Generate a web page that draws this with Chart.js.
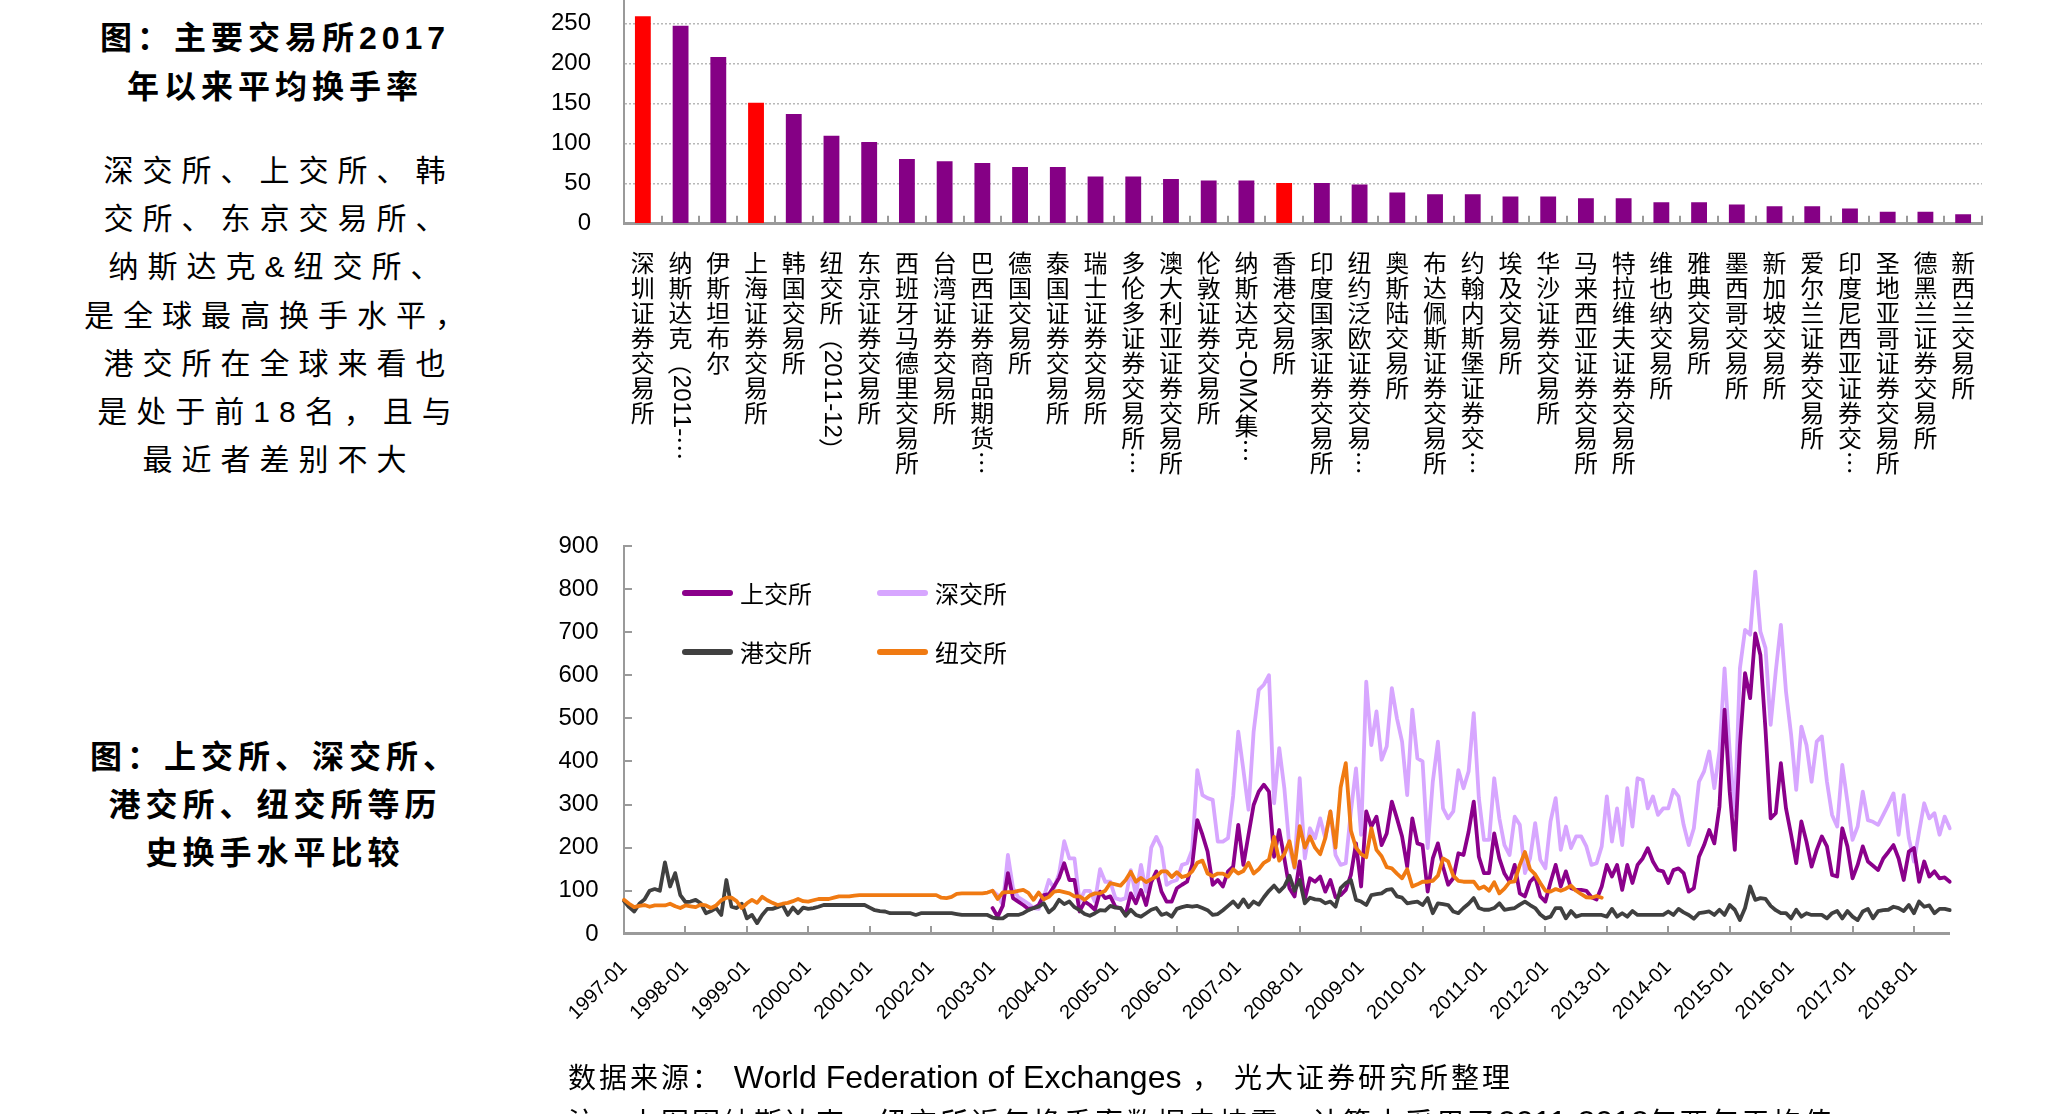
<!DOCTYPE html>
<html lang="zh-CN">
<head>
<meta charset="UTF-8">
<title>主要交易所换手率比较</title>
<script src="https://cdn.jsdelivr.net/npm/chart.js@4"></script>
<style>
  html, body { margin: 0; padding: 0; background: #fff; }
  body {
    width: 2048px; height: 1114px; position: relative; overflow: hidden;
    font-family: 'Liberation Sans', 'Noto Sans CJK SC', sans-serif; color: #000;
  }
  canvas { position: absolute; }
  #barChart { left: 540px; top: -40px; }
  #lineChart { left: 540px; top: 500px; }
  .side { position: absolute; left: 70px; width: 400px; text-align: center; white-space: nowrap; }
  .title { font-size: 32px; font-weight: bold; line-height: 49px; letter-spacing: 5px; padding-left: 5px; }
  .body-text { font-size: 30px; line-height: 48.2px; letter-spacing: 9px; padding-left: 9px; }
  #title1 { top: 14px; }
  #desc { top: 147px; }
  #title2 { top: 733px; line-height: 48px; }
  .note { position: absolute; left: 568px; white-space: nowrap; font-size: 28px; letter-spacing: 3px; }
  .note .en { font-size: 32px; letter-spacing: 0; }
  #source { top: 1055px; line-height: 44px; }
  #note2 { top: 1100px; line-height: 44px; }
  #legend {
    position: absolute; left: 682px; top: 563px;
    display: grid; grid-template-columns: 195px 195px; grid-auto-rows: 59px;
    font-family: 'Noto Sans CJK SC', sans-serif; font-size: 24px;
  }
  #legend .item { display: flex; align-items: center; }
  #legend .swatch { width: 51px; height: 6px; border-radius: 3px; margin-right: 7px; }
</style>
</head>
<body>
  <div class="side title" id="title1">图：主要交易所2017<br>年以来平均换手率</div>
  <div class="side body-text" id="desc">深交所、上交所、韩<br>交所、东京交易所、<br>纳斯达克&amp;纽交所、<br>是全球最高换手水平，<br>港交所在全球来看也<br>是处于前18名，且与<br>最近者差别不大</div>
  <div class="side title" id="title2">图：上交所、深交所、<br>港交所、纽交所等历<br>史换手水平比较</div>

  <canvas id="barChart" width="1460" height="600"></canvas>
  <canvas id="lineChart" width="1440" height="600"></canvas>
  <div id="legend"></div>

  <div class="note" id="source">数据来源： <span class="en">World Federation of Exchanges</span> ， 光大证券研究所整理</div>
  <div class="note" id="note2">注：上图因纳斯达克、纽交所近年换手率数据未披露，计算中采用了<span class="en">2011-2012</span>年两年平均值</div>

<script>
// ---- 图1：主要交易所2017年以来平均换手率 ----
const exchanges = [
  '深圳证券交易所', '纳斯达克（2011-…', '伊斯坦布尔', '上海证券交易所', '韩国交易所',
  '纽交所（2011-12）', '东京证券交易所', '西班牙马德里交易所', '台湾证券交易所', '巴西证券商品期货…',
  '德国交易所', '泰国证券交易所', '瑞士证券交易所', '多伦多证券交易所…', '澳大利亚证券交易所',
  '伦敦证券交易所', '纳斯达克-OMX集…', '香港交易所', '印度国家证券交易所', '纽约泛欧证券交易…',
  '奥斯陆交易所', '布达佩斯证券交易所', '约翰内斯堡证券交…', '埃及交易所', '华沙证券交易所',
  '马来西亚证券交易所', '特拉维夫证券交易所', '维也纳交易所', '雅典交易所', '墨西哥交易所',
  '新加坡交易所', '爱尔兰证券交易所', '印度尼西亚证券交…', '圣地亚哥证券交易所', '德黑兰证券交易所',
  '新西兰交易所'
];
const turnover = [
  259, 247, 208, 151, 137, 110, 102, 81, 78, 76,
  71, 71, 59, 59, 56, 54, 54, 51, 51, 49,
  39, 37, 37, 34, 34, 32, 32, 27, 27, 24,
  22, 22, 19, 15, 15, 12
];
const highlight = ['深圳证券交易所', '上海证券交易所', '香港交易所'];
const barTicks = [0, 50, 100, 150, 200, 250, 300];

// ---- 图2：历史换手水平（月度，1997-01 起）----
const startYear = 1997;
const hkex = [
  76, 62, 52, 70, 80, 100, 104, 100, 166, 110,
  141, 90, 74, 75, 79, 71, 48, 53, 60, 44,
  125, 63, 60, 70, 36, 44, 25, 44, 58, 58,
  62, 67, 44, 61, 48, 61, 58, 60, 63, 67,
  67, 67, 67, 67, 67, 67, 67, 67, 61, 55,
  53, 52, 48, 48, 48, 48, 48, 44, 48, 48,
  48, 48, 48, 48, 48, 46, 44, 44, 44, 44,
  44, 44, 38, 36, 36, 44, 44, 44, 48, 55,
  60, 63, 71, 50, 60, 79, 69, 75, 62, 55,
  46, 42, 48, 55, 54, 65, 61, 60, 42, 56,
  44, 40, 48, 56, 60, 44, 48, 40, 58, 62,
  65, 63, 65, 60, 55, 44, 46, 55, 65, 75,
  62, 80, 62, 75, 68, 85, 100, 112, 98, 110,
  135, 100, 125, 71, 84, 80, 79, 71, 75, 63,
  106, 118, 125, 79, 75, 67, 90, 92, 94, 102,
  104, 87, 84, 71, 73, 75, 67, 83, 48, 71,
  69, 67, 52, 48, 60, 70, 83, 60, 56, 56,
  60, 71, 56, 58, 60, 68, 75, 67, 60, 45,
  36, 40, 60, 60, 36, 53, 40, 44, 44, 44,
  44, 44, 40, 58, 40, 48, 40, 53, 44, 44,
  44, 44, 44, 44, 52, 44, 58, 50, 44, 35,
  48, 50, 52, 44, 56, 44, 67, 56, 32, 60,
  110, 79, 83, 81, 65, 55, 48, 48, 36, 56,
  40, 48, 44, 44, 44, 36, 48, 53, 36, 53,
  40, 32, 52, 58, 36, 53, 55, 56, 63, 60,
  53, 67, 48, 75, 63, 66, 48, 58, 58, 55
];
const nyse = [
  79, 70, 62, 65, 67, 63, 66, 66, 66, 70,
  64, 60, 66, 64, 62, 68, 66, 60, 66, 78,
  84, 84, 76, 60, 71, 79, 72, 86, 78, 72,
  67, 70, 72, 76, 81, 76, 75, 78, 81, 81,
  81, 84, 87, 87, 87, 89, 90, 90, 90, 90,
  90, 90, 90, 90, 90, 90, 90, 90, 90, 90,
  90, 90, 84, 83, 86, 93, 94, 94, 94, 94,
  94, 96, 100, 81, 96, 97, 97, 100, 102, 95,
  79, 96, 80, 86, 98, 100, 97, 94, 87, 87,
  79, 89, 94, 94, 100, 118, 115, 112, 125, 144,
  121, 130, 120, 127, 133, 145, 145, 132, 143, 132,
  135, 145, 165, 170, 140, 134, 140, 140, 133, 150,
  140, 146, 165, 140, 150, 165, 172, 225, 170, 185,
  215, 155, 250, 200, 226, 200, 185, 222, 284, 200,
  340, 396, 240, 200, 185, 178, 245, 195, 180, 155,
  152, 140, 129, 150, 110, 115, 121, 121, 123, 135,
  175, 168, 135, 123, 121, 121, 121, 105, 110, 100,
  120, 94, 105, 120, 122, 160, 190, 150, 138, 118,
  100, 98, 104, 100, 105, 112, 100, 92, 85, 84,
  88, 84,
  ...Array(68).fill(null)
];
const sse = [
  ...Array(72).fill(null),
  60, 40, 65, 141, 83, 75, 67, 58,
  60, 67, 90, 92, 110, 130, 164, 125, 125, 52,
  75, 67, 56, 98, 83, 87, 63, 60, 44, 94,
  71, 102, 67, 120, 145, 98, 75, 75, 106, 114,
  121, 160, 264, 230, 191, 114, 125, 110, 145, 156,
  253, 160, 230, 299, 330, 346, 330, 179, 241, 175,
  106, 87, 168, 80, 129, 121, 133, 98, 125, 85,
  90, 102, 137, 210, 110, 284, 249, 272, 206, 233,
  307, 268, 226, 156, 268, 210, 206, 98, 175, 210,
  156, 114, 129, 187, 183, 237, 307, 179, 141, 141,
  233, 175, 140, 121, 160, 94, 87, 121, 133, 87,
  75, 120, 160, 110, 145, 106, 102, 102, 100, 85,
  80, 110, 160, 133, 160, 102, 160, 118, 160, 175,
  199, 168, 148, 145, 118, 148, 152, 141, 98, 106,
  179, 206, 241, 210, 295, 520, 330, 195, 438, 605,
  547, 697, 647, 473, 268, 280, 396, 291, 230, 164,
  261, 214, 156, 195, 226, 203, 137, 133, 245, 203,
  129, 160, 203, 168, 158, 148, 175, 190, 206, 175,
  125, 191, 199, 121, 168, 133, 145, 129, 131, 121
];
const szse = [
  ...Array(72).fill(null),
  100, 90, 67, 183, 106, 85, 78, 70,
  60, 58, 85, 125, 106, 140, 215, 175, 175, 75,
  100, 100, 75, 150, 121, 121, 83, 79, 83, 148,
  90, 160, 98, 200, 225, 200, 114, 121, 125, 160,
  164, 195, 380, 322, 315, 311, 214, 214, 222, 320,
  469, 380, 288, 469, 566, 578, 600, 303, 431, 338,
  200, 152, 361, 175, 245, 222, 268, 222, 284, 183,
  160, 164, 284, 384, 230, 585, 438, 516, 404, 435,
  570, 500, 446, 322, 520, 407, 400, 199, 353, 446,
  291, 268, 284, 380, 338, 377, 512, 315, 218, 218,
  361, 268, 206, 183, 272, 253, 141, 175, 257, 172,
  152, 261, 315, 195, 249, 199, 226, 226, 203, 160,
  164, 203, 319, 214, 291, 206, 338, 249, 361, 357,
  291, 319, 276, 291, 291, 334, 319, 253, 206, 245,
  353, 377, 423, 338, 423, 616, 423, 276, 616, 705,
  694, 840, 701, 663, 485, 609, 717, 562, 462, 334,
  481, 438, 353, 446, 458, 353, 276, 249, 392, 307,
  218, 249, 330, 264, 260, 253, 276, 300, 326, 230,
  322, 222, 168, 237, 303, 268, 280, 230, 272, 245
];
const seriesNames = ['上交所', '深交所', '港交所', '纽交所'];

// month labels 1997-01 ... 2018-08
const months = [];
for (let i = 0; i < hkex.length; i++) {
  const yr = startYear + Math.floor(i / 12);
  const mo = String(i % 12 + 1).padStart(2, '0');
  months.push(yr + '-' + mo);
}

Chart.defaults.font.family = "'Liberation Sans', 'Noto Sans CJK SC', sans-serif";
Chart.defaults.color = '#000';

const AXIS = '#9a9a9a';

// where the plot areas sit on the page (y, px)
const BAR_AREA = { top: -16.8, bottom: 223.6 };
const LINE_AREA = { top: 546.3, bottom: 934.3 };

// vertical category labels (CJK upright, latin turned) + inside tick marks
const barLabels = {
  id: 'barLabels',
  afterDraw(chart) {
    const { ctx, chartArea, scales: { x } } = chart;
    ctx.save();
    ctx.fillStyle = '#000';
    exchanges.forEach((name, i) => {
      const cx = x.getPixelForValue(i);
      let y = chartArea.bottom + 27;
      for (const ch of name) {
        if (/[\u3000-\u303f\u4e00-\u9fff]/.test(ch)) {
          ctx.font = '24px "Noto Sans CJK SC"';
          ctx.textAlign = 'center';
          ctx.textBaseline = 'middle';
          ctx.fillText(ch, cx, y + 12.5);
          y += 25;
        } else {
          const wide = /[\uff00-\uffef\u2026]/.test(ch);
          ctx.font = wide ? '24px "Noto Sans CJK SC"' : '24px "Liberation Sans"';
          const w = ctx.measureText(ch).width;
          ctx.save();
          ctx.translate(cx, y);
          ctx.rotate(Math.PI / 2);
          ctx.textAlign = 'left';
          ctx.textBaseline = 'middle';
          ctx.fillText(ch, 0, 0);
          ctx.restore();
          y += w;
        }
      }
    });
    // tick marks between categories, pointing up
    ctx.strokeStyle = AXIS;
    ctx.lineWidth = 2;
    ctx.beginPath();
    for (let i = 1; i <= exchanges.length; i++) {
      const px = Math.round(x.getPixelForValue(i - 0.5));
      ctx.moveTo(px, chartArea.bottom);
      ctx.lineTo(px, chartArea.bottom - 8);
    }
    ctx.stroke();
    ctx.restore();
  }
};

function barConfig(pad) {
  return {
    type: 'bar',
    data: {
      labels: exchanges,
      datasets: [{
        data: turnover,
        backgroundColor: exchanges.map(n => highlight.includes(n) ? '#ff0000' : '#850085'),
        barPercentage: 0.42,
        categoryPercentage: 1
      }]
    },
    options: {
      responsive: false,
      animation: false,
      layout: { padding: { top: pad.top, right: 18, bottom: pad.bottom, left: 0 } },
      plugins: { legend: { display: false }, tooltip: { enabled: false } },
      scales: {
        x: {
          ticks: { display: false },
          grid: { display: false, drawTicks: false },
          border: { color: AXIS, width: 3 }
        },
        y: {
          min: barTicks[0],
          max: barTicks[barTicks.length - 1],
          afterBuildTicks: s => { s.ticks = barTicks.map(v => ({ value: v })); },
          ticks: { padding: 33, font: { size: 24 }, color: '#000' },
          grid: { color: '#b8b8b8', lineWidth: 1.5, drawTicks: false },
          border: { color: AXIS, width: 2, dash: [2, 2] },
          afterFit: s => { s.width = 84; }
        }
      }
    },
    plugins: [barLabels]
  };
}

// inside tick marks for the line chart
const lineTicks = {
  id: 'lineTicks',
  afterDraw(chart) {
    const { ctx, chartArea, scales: { x, y } } = chart;
    ctx.save();
    ctx.strokeStyle = AXIS;
    ctx.lineWidth = 2;
    ctx.beginPath();
    months.forEach((m, i) => {
      if (i > 0 && m.endsWith('-01')) {
        const px = Math.round(x.getPixelForValue(i));
        ctx.moveTo(px, chartArea.bottom);
        ctx.lineTo(px, chartArea.bottom - 8);
      }
    });
    y.ticks.forEach(t => {
      if (t.value === 0) return;
      const py = Math.round(y.getPixelForValue(t.value));
      ctx.moveTo(chartArea.left, py);
      ctx.lineTo(chartArea.left + 8, py);
    });
    ctx.stroke();
    ctx.restore();
  }
};

const colors = { '上交所': '#8b008b', '深交所': '#d7a6ff', '港交所': '#404040', '纽交所': '#f07a12' };
const seriesData = { '上交所': sse, '深交所': szse, '港交所': hkex, '纽交所': nyse };
const drawOrder = { '纽交所': 1, '港交所': 2, '上交所': 3, '深交所': 4 };

function lineConfig(pad) {
  return {
    type: 'line',
    data: {
      labels: months,
      datasets: seriesNames.map(n => ({
        label: n,
        data: seriesData[n],
        borderColor: colors[n],
        order: drawOrder[n]
      }))
    },
    options: {
      responsive: false,
      animation: false,
      elements: {
        point: { radius: 0 },
        line: { borderWidth: 3.8, tension: 0, borderJoinStyle: 'round', borderCapStyle: 'round' }
      },
      layout: { padding: { top: pad.top, right: 30.2, left: 0, bottom: pad.bottom } },
      plugins: { legend: { display: false }, tooltip: { enabled: false } },
      scales: {
        x: {
          grid: { display: false, drawTicks: false },
          border: { color: AXIS, width: 3 },
          ticks: {
            autoSkip: false, maxRotation: 45, minRotation: 45, padding: 22,
            font: { size: 20 }, color: '#000',
            callback(value) {
              const l = this.getLabelForValue(value);
              return l.endsWith('-01') ? l : null;
            }
          },
          afterFit: s => { s.height = 147.7; }
        },
        y: {
          min: 0, max: 900,
          ticks: { stepSize: 100, padding: 25.5, font: { size: 24 }, color: '#000' },
          grid: { display: false, drawTicks: false },
          border: { color: AXIS, width: 2 },
          afterFit: s => { s.width = 84; }
        }
      }
    },
    plugins: [lineTicks]
  };
}

// build a chart, then fit its plot area to the wanted page rows
function placeChart(el, makeConfig, pad, area) {
  let chart = new Chart(el, makeConfig(pad));
  const h = chart.chartArea.bottom - chart.chartArea.top;
  pad.bottom += h - (area.bottom - area.top);
  chart.destroy();
  chart = new Chart(el, makeConfig(pad));
  el.style.top = (area.top - chart.chartArea.top) + 'px';
  return chart;
}

placeChart(document.getElementById('barChart'), barConfig, { top: 20, bottom: 320 }, BAR_AREA);
placeChart(document.getElementById('lineChart'), lineConfig, { top: 24, bottom: 40 }, LINE_AREA);

// legend (2 x 2, inside the plot)
const legend = document.getElementById('legend');
seriesNames.forEach(n => {
  const item = document.createElement('div');
  item.className = 'item';
  const sw = document.createElement('span');
  sw.className = 'swatch';
  sw.style.background = colors[n];
  item.appendChild(sw);
  item.appendChild(document.createTextNode(n));
  legend.appendChild(item);
});
</script>
</body>
</html>
